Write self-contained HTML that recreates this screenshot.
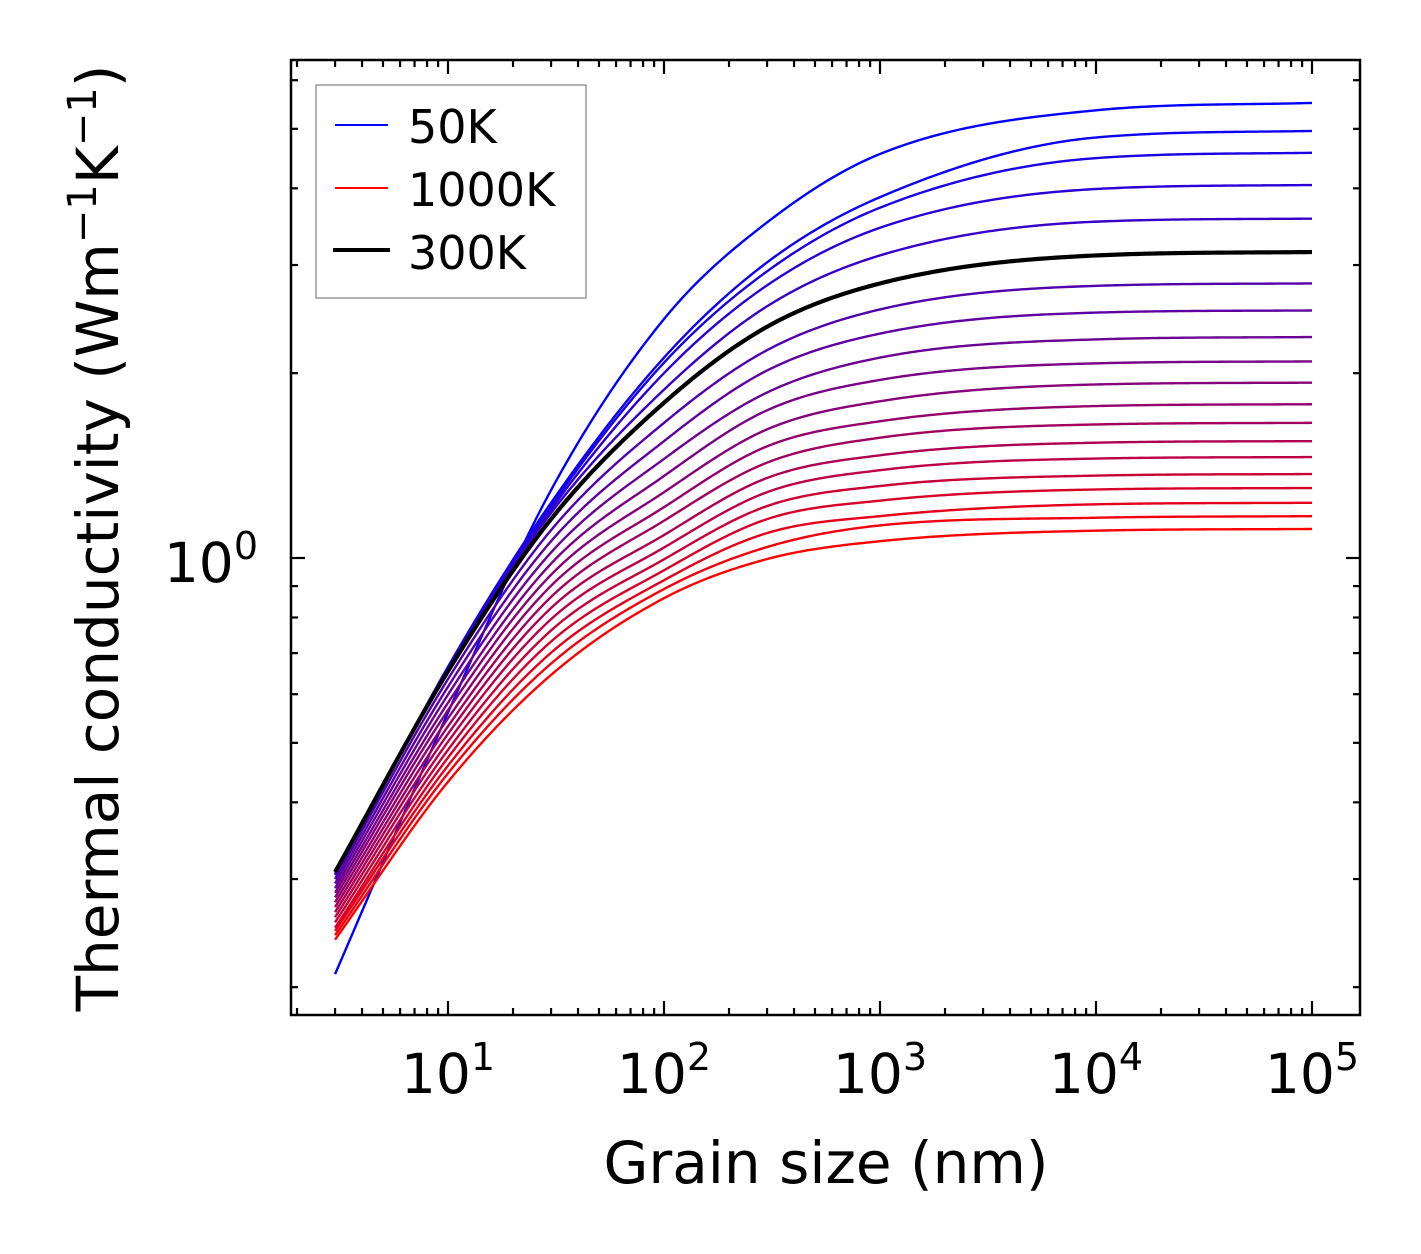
<!DOCTYPE html>
<html><head><meta charset="utf-8"><style>
html,body{margin:0;padding:0;background:#fff;}
svg{display:block;font-family:"DejaVu Sans","Liberation Sans",sans-serif;}
</style></head><body>
<svg id="chart" width="1421" height="1254" viewBox="0 0 1421 1254" xmlns="http://www.w3.org/2000/svg">
<rect x="0" y="0" width="1421" height="1254" fill="#fff"/>
<g id="curves"></g>
<g id="ticks"></g>
<rect x="291" y="60" width="1069" height="955" fill="none" stroke="#000" stroke-width="2.5"/>
<g font-size="55" text-anchor="middle" fill="#000">
<text x="448" y="1093">10<tspan dy="-23" font-size="38">1</tspan></text>
<text x="664" y="1093">10<tspan dy="-23" font-size="38">2</tspan></text>
<text x="880" y="1093">10<tspan dy="-23" font-size="38">3</tspan></text>
<text x="1096" y="1093">10<tspan dy="-23" font-size="38">4</tspan></text>
<text x="1312" y="1093">10<tspan dy="-23" font-size="38">5</tspan></text>
</g>
<text x="258" y="582" font-size="55" text-anchor="end">10<tspan dy="-23" font-size="38">0</tspan></text>
<text x="826" y="1183" font-size="58" text-anchor="middle">Grain size (nm)</text>
<text transform="translate(118,538) rotate(-90)" font-size="58" text-anchor="middle">Thermal conductivity (Wm<tspan dy="-22" font-size="40">−1</tspan><tspan dy="22">K</tspan><tspan dy="-22" font-size="40">−1</tspan><tspan dy="22">)</tspan></text>
<g>
<rect x="316" y="85" width="270" height="213" fill="#fff" stroke="#999" stroke-width="1.5"/>
<line x1="335" y1="125" x2="388" y2="125" stroke="#0000ff" stroke-width="2"/>
<text x="408" y="143" font-size="46">50K</text>
<line x1="335" y1="188" x2="388" y2="188" stroke="#ff0000" stroke-width="2"/>
<text x="408" y="206" font-size="46">1000K</text>
<line x1="333" y1="250" x2="390" y2="250" stroke="#000" stroke-width="4"/>
<text x="408" y="269" font-size="46">300K</text>
</g>
</svg>
<script>
const temperatures = [50,100,150,200,250,300,350,400,450,500,550,600,650,700,750,800,850,900,950,1000];
const grainSizes = [3, 10, 30, 100, 300, 1000, 10000, 100000];
const kAt3 = [0.21,0.30,0.305,0.305,0.306,0.308,0.30,0.295,0.29,0.285,0.28,0.275,0.27,0.265,0.26,0.255,0.25,0.247,0.243,0.239];
const kAt10 = [0.56,0.665,0.662,0.66,0.657,0.654,0.635,0.617,0.599,0.581,0.565,0.548,0.532,0.517,0.502,0.487,0.473,0.459,0.446,0.432];
const kAt30 = [1.29,1.23,1.215,1.20,1.184,1.157,1.11,1.065,1.021,0.979,0.939,0.901,0.864,0.829,0.795,0.762,0.731,0.701,0.673,0.645];
const kAt100 = [2.45,2.12,2.08,2.00,1.88,1.79,1.66,1.55,1.45,1.36,1.28,1.21,1.15,1.09,1.04,0.995,0.955,0.92,0.89,0.86];
const kAt300 = [3.52,3.03,2.93,2.78,2.57,2.38,2.18,2.02,1.86,1.74,1.62,1.52,1.43,1.35,1.28,1.215,1.157,1.098,1.042,0.996];
const kAt1000 = [4.55,3.87,3.72,3.45,3.11,2.80,2.54,2.32,2.12,1.95,1.80,1.67,1.57,1.47,1.39,1.31,1.24,1.17,1.13,1.065];
const kAt1e4 = [5.36,4.84,4.48,3.99,3.53,3.11,2.775,2.51,2.27,2.075,1.917,1.768,1.65,1.541,1.452,1.362,1.293,1.223,1.163,1.108];
const kAt1e5 = [5.51,4.96,4.57,4.05,3.57,3.15,2.80,2.53,2.29,2.09,1.93,1.78,1.66,1.55,1.46,1.37,1.30,1.23,1.17,1.115];
const highlightT = 300;

const NS = "http://www.w3.org/2000/svg";
const X0 = 291, X1 = 1360, Y0 = 60, Y1 = 1015;
const xPerDec = 216, yPerDec = 614;
function xScale(v){ return 448 + (Math.log10(v) - 1) * xPerDec; }
function yScale(v){ return 558 - Math.log10(v) * yPerDec; }

function monotone(xs, ys){
  const n = xs.length, d = [], m = new Array(n);
  for (let i=0;i<n-1;i++) d.push((ys[i+1]-ys[i])/(xs[i+1]-xs[i]));
  m[0]=d[0]; m[n-1]=d[n-2];
  for (let i=1;i<n-1;i++){ m[i] = (d[i-1]*d[i] <= 0) ? 0 : (d[i-1]+d[i])/2; }
  for (let i=0;i<n-1;i++){
    if (d[i]===0){ m[i]=0; m[i+1]=0; continue; }
    const a=m[i]/d[i], b=m[i+1]/d[i], s=a*a+b*b;
    if (s>9){ const t=3/Math.sqrt(s); m[i]=t*a*d[i]; m[i+1]=t*b*d[i]; }
  }
  return function(x){
    let i=0; while(i<n-2 && x>xs[i+1]) i++;
    const h=xs[i+1]-xs[i], t=(x-xs[i])/h, t2=t*t, t3=t2*t;
    return (2*t3-3*t2+1)*ys[i]+(t3-2*t2+t)*h*m[i]+(-2*t3+3*t2)*ys[i+1]+(t3-t2)*h*m[i+1];
  };
}

const curves = document.getElementById('curves');
function drawCurve(idx, color, width, name){
  const vals = [kAt3[idx],kAt10[idx],kAt30[idx],kAt100[idx],kAt300[idx],kAt1000[idx],kAt1e4[idx],kAt1e5[idx]];
  const lx = grainSizes.map(v=>Math.log10(v)), ly = vals.map(v=>Math.log10(v));
  const f = monotone(lx, ly);
  let d = "";
  const N = 300;
  for (let j=0;j<=N;j++){
    const l = lx[0] + (lx[lx.length-1]-lx[0])*j/N;
    const k = Math.pow(10, f(l));
    d += (j? "L":"M") + xScale(Math.pow(10,l)).toFixed(2) + "," + yScale(k).toFixed(2);
  }
  const p = document.createElementNS(NS,'path');
  p.setAttribute('d', d);
  p.setAttribute('fill','none');
  p.setAttribute('stroke', color);
  p.setAttribute('stroke-width', width);
  p.setAttribute('stroke-linejoin','round');
  
  
  curves.appendChild(p);
}
const nT = temperatures.length;
temperatures.forEach((T,i)=>{
  const f = i/(nT-1);
  const col = `rgb(${Math.round(255*f)},0,${Math.round(255*(1-f))})`;
  drawCurve(i, col, 2.4, 'curve-' + T + 'k');
});
const hi = temperatures.indexOf(highlightT);
drawCurve(hi, '#000', 4.2, 'curve-300k-highlight');

const tg = document.getElementById('ticks');
function tick(x1,y1,x2,y2,name){
  const l = document.createElementNS(NS,'line');
  l.setAttribute('x1',x1); l.setAttribute('y1',y1); l.setAttribute('x2',x2); l.setAttribute('y2',y2);
  l.setAttribute('stroke','#000'); l.setAttribute('stroke-width',2.2);
  
  
  tg.appendChild(l);
}
for (let e=0;e<=5;e++){
  for (let m=1;m<=9;m++){
    const v = m*Math.pow(10,e), x = xScale(v);
    if (x < X0+1 || x > X1-1) continue;
    const len = m===1 ? 14 : 7;
    tick(x,Y1,x,Y1-len,'x-tick');
    tick(x,Y0,x,Y0+len,'x-tick-top');
  }
}
for (let e=-1;e<=0;e++){
  for (let m=1;m<=9;m++){
    const v = m*Math.pow(10,e), y = yScale(v);
    if (y < Y0+1 || y > Y1-1) continue;
    const len = (m===1 && e===0) ? 14 : 7;
    tick(X0,y,X0+len,y,'y-tick');
    tick(X1,y,X1-len,y,'y-tick-right');
  }
}
</script>
</body></html>
